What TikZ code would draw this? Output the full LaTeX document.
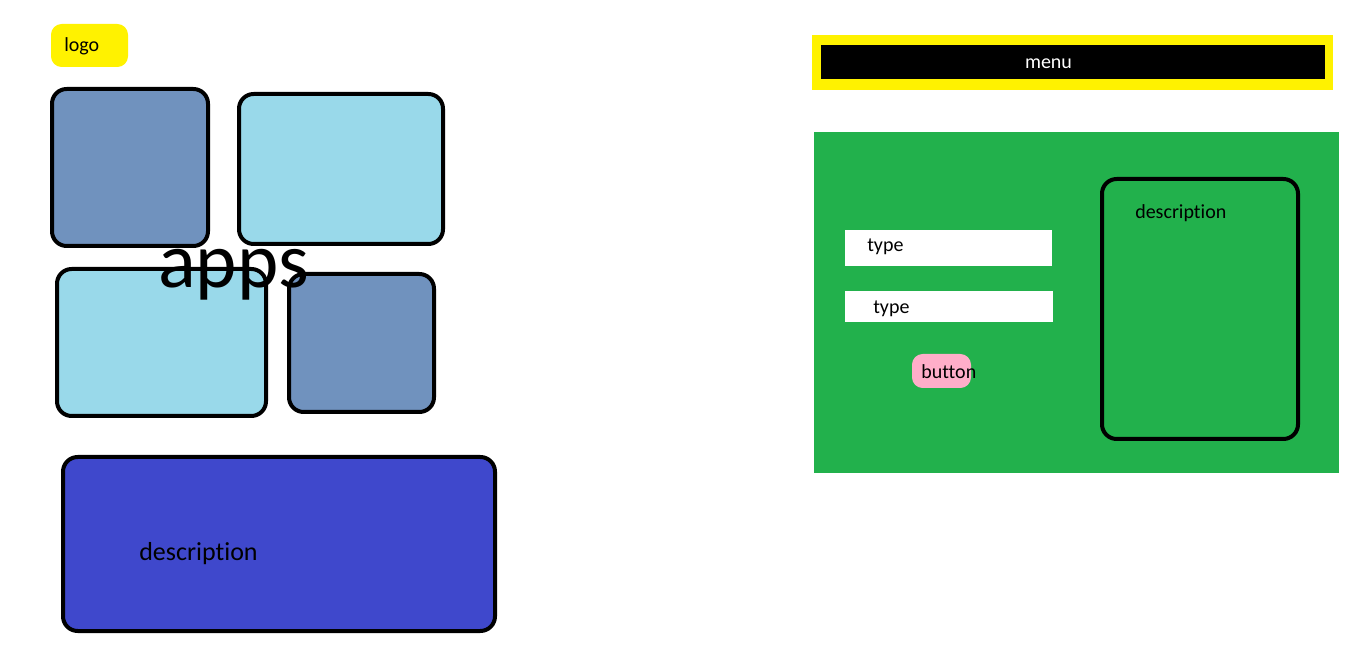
\documentclass[tikz,border=0pt]{standalone}
\usepackage{fontspec}
\setmainfont{Carlito}[Ligatures={NoCommon}]
\definecolor{paintYellow}{HTML}{FFF200}
\definecolor{paintSlate}{HTML}{7092BE}
\definecolor{paintSky}{HTML}{99D9EA}
\definecolor{paintIndigo}{HTML}{3F48CC}
\definecolor{paintGreen}{HTML}{22B14C}
\definecolor{paintRose}{HTML}{FFAEC9}
\begin{document}
\begin{tikzpicture}
[x=0.75pt,y=-0.75pt,
  boxDecorate/.style={shape=rectangle,draw,line width=3pt,rounded corners=11pt,inner sep=0pt},
  flatDecorate/.style={shape=rectangle,draw=none,inner sep=0pt},
  textDecorate/.style={anchor=base west,inner sep=0pt,font=\fontsize{15}{18}\selectfont}]
\useasboundingbox (0,0) rectangle (1350,648);
%% left side: logo, apps and description
\node (logo) at (89.5,45.5) [flatDecorate,fill=paintYellow,rounded corners=8pt,
  minimum width=77*0.75pt,minimum height=43*0.75pt] {};
\node (logoText) at (64,52) [textDecorate] {logo};
\foreach \nodename/\x/\y/\w/\h/\tint in {
  appA/130/167.5/156/157/paintSlate, appB/341/169/204/150/paintSky,
  appC/161.5/342.5/209/147/paintSky, appD/361.5/343/145/138/paintSlate,
  descLeft/279/544/432/174/paintIndigo}
{
  \node (\nodename) at (\x,\y) [boxDecorate,fill=\tint,
    minimum width=\w*0.75pt,minimum height=\h*0.75pt] {};
}
\node (appsText) at (158,288) [anchor=base west,inner sep=0pt,
  font=\fontsize{59}{68}\selectfont] {apps};
\node (descLeftText) at (139,561) [textDecorate,font=\fontsize{19.5}{23}\selectfont] {description};
%% right side: menu and form
\node (menu) at (1072.5,62.5) [flatDecorate,fill=paintYellow,
  minimum width=521*0.75pt,minimum height=55*0.75pt] {};
\node (menuBar) at (1073,62) [flatDecorate,fill=black,
  minimum width=504*0.75pt,minimum height=34*0.75pt] {};
\node (menuText) at (1048.5,69) [textDecorate,anchor=base,text=white] {menu};
\node (form) at (1076.5,302.5) [flatDecorate,fill=paintGreen,
  minimum width=525*0.75pt,minimum height=341*0.75pt] {};
\foreach \nodename/\x/\y/\w/\h in {
  typeA/948.5/248/207/36, typeB/949/306.5/208/31}
{
  \node (\nodename) at (\x,\y) [flatDecorate,fill=white,
    minimum width=\w*0.75pt,minimum height=\h*0.75pt] {};
}
\node (button) at (941.5,371) [flatDecorate,fill=paintRose,rounded corners=8pt,
  minimum width=59*0.75pt,minimum height=34*0.75pt] {};
\node (descRight) at (1200,309) [boxDecorate,
  minimum width=196*0.75pt,minimum height=260*0.75pt] {};
%% texts of the form
\foreach \nodename/\x/\y/\word in {
  typeAText/867/252/type, typeBText/873/314/type,
  buttonText/921/379/button, descRightText/1135/219/description}
{
  \node (\nodename) at (\x,\y) [textDecorate] {\word};
}
\end{tikzpicture}
\end{document}
